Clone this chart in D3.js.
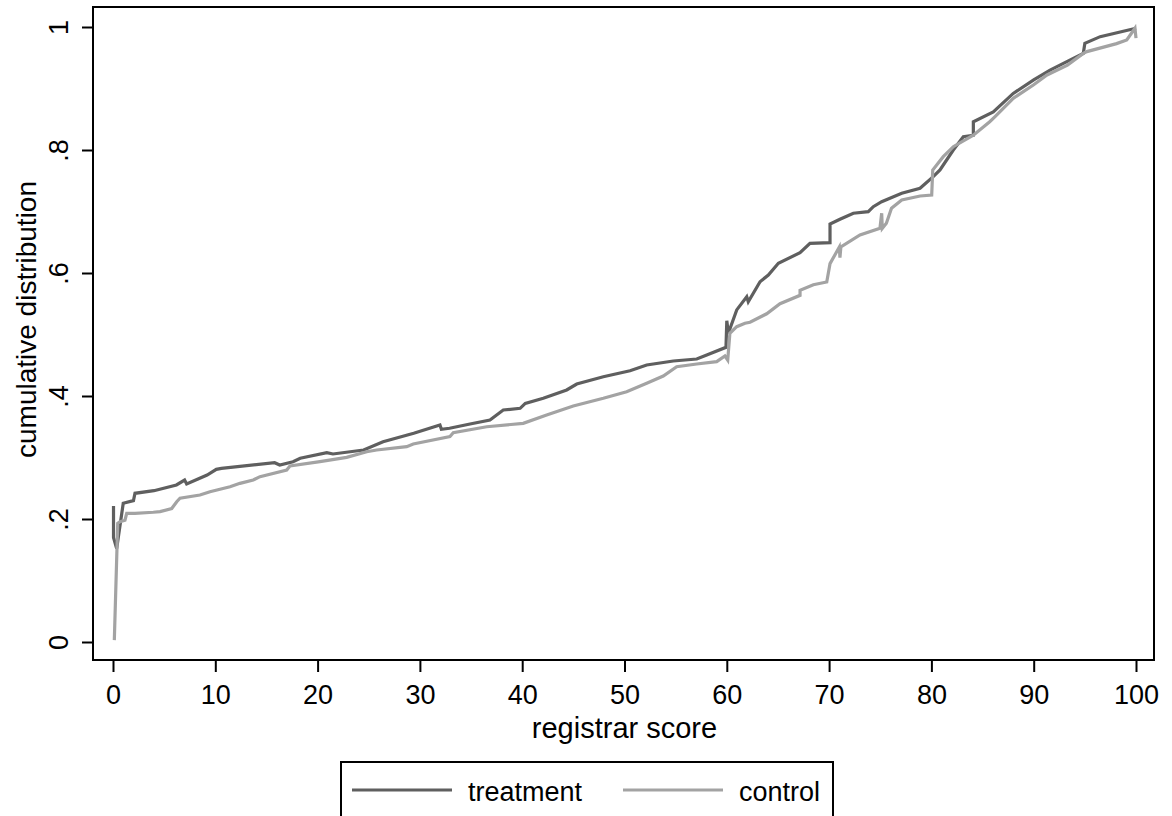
<!DOCTYPE html>
<html>
<head>
<meta charset="utf-8">
<script src="https://cdn.jsdelivr.net/npm/d3@7"></script>
<style>
  body { margin: 0; background: #fff; }
  text { font-family: "Liberation Sans", Arial, sans-serif; fill: #000; }
</style>
</head>
<body>
<div id="chart"></div>
<script>
// cumulative distribution of registrar score
const treatX = [0.05, 0.05, 0.36, 1.0, 2.0, 2.15, 4.0, 6.2, 7.0, 7.2, 9.2, 10.1, 10.6, 15.8, 16.3, 17.6, 18.3, 20.9, 21.5, 24.5, 26.4, 29.4, 31.96, 32.1, 32.9, 34.9, 36.85, 38.15, 39.8, 40.3, 42.06, 44.35, 45.33, 47.93, 50.54, 52.17, 54.77, 57.06, 58.04, 59.92, 60.0, 60.15, 60.97, 61.95, 62.1, 63.25, 64.06, 65.04, 67.16, 68.13, 70.09, 70.09, 71.06, 72.37, 73.83, 74.32, 75.14, 77.1, 78.89, 80.18, 80.84, 82.14, 83.12, 84.1, 84.1, 86.05, 88.0, 90.0, 91.6, 93.87, 94.85, 95.0, 96.5, 100.0];
const treatY = [0.221, 0.17, 0.152, 0.2255, 0.2298, 0.2418, 0.246, 0.2553, 0.2634, 0.257, 0.2715, 0.2808, 0.2824, 0.2915, 0.2878, 0.2932, 0.2987, 0.3078, 0.3057, 0.3122, 0.3257, 0.3393, 0.3528, 0.3459, 0.3475, 0.3545, 0.361, 0.3772, 0.38, 0.388, 0.3963, 0.4098, 0.4195, 0.4314, 0.4411, 0.4504, 0.4569, 0.4602, 0.4667, 0.4792, 0.5224, 0.502, 0.54, 0.5615, 0.5533, 0.5858, 0.5967, 0.6158, 0.633, 0.6483, 0.6493, 0.6797, 0.6873, 0.6971, 0.6997, 0.7078, 0.716, 0.7296, 0.7377, 0.7566, 0.7675, 0.8, 0.8216, 0.824, 0.846, 0.862, 0.892, 0.914, 0.93, 0.949, 0.9572, 0.9734, 0.9843, 0.998];

const ctrlX = [0.13, 0.46, 0.68, 1.17, 1.34, 2.15, 3.94, 4.6, 5.74, 6.23, 6.55, 8.5, 9.48, 11.44, 12.41, 13.71, 14.37, 16.98, 17.3, 20.23, 22.84, 24.8, 25.78, 28.71, 29.35, 32.94, 33.26, 36.53, 40.1, 42.39, 44.99, 47.93, 50.21, 52.17, 53.79, 55.1, 57.06, 59.01, 59.82, 60.09, 60.3, 60.97, 61.78, 62.27, 63.9, 65.2, 67.16, 67.16, 68.46, 69.77, 70.09, 71.0, 71.06, 71.15, 73.02, 74.97, 75.14, 75.2, 75.6, 76.1, 77.1, 78.9, 80.03, 80.13, 81.16, 82.14, 84.1, 85.7, 86.2, 88.0, 90.0, 91.3, 93.3, 94.85, 95.2, 98.1, 99.1, 99.9, 100.0];
const ctrlY = [0.003, 0.193, 0.1956, 0.198, 0.209, 0.209, 0.211, 0.212, 0.217, 0.228, 0.2337, 0.239, 0.2444, 0.2525, 0.258, 0.2634, 0.2688, 0.2797, 0.2862, 0.2932, 0.3003, 0.3094, 0.3122, 0.3176, 0.322, 0.334, 0.3403, 0.35, 0.3556, 0.3691, 0.3837, 0.3963, 0.407, 0.4206, 0.4325, 0.4476, 0.452, 0.4558, 0.465, 0.4585, 0.502, 0.5127, 0.5182, 0.52, 0.5337, 0.55, 0.5637, 0.5718, 0.5809, 0.5854, 0.6152, 0.6423, 0.625, 0.6423, 0.6618, 0.6726, 0.6971, 0.6726, 0.6808, 0.7052, 0.7187, 0.7252, 0.7268, 0.7675, 0.7892, 0.8054, 0.824, 0.846, 0.854, 0.884, 0.906, 0.922, 0.938, 0.957, 0.96, 0.973, 0.979, 0.998, 0.982];

const xTicks = [0, 10, 20, 30, 40, 50, 60, 70, 80, 90, 100];
const yTicks = [0, 0.2, 0.4, 0.6, 0.8, 1];
const yTickLabels = ["0", ".2", ".4", ".6", ".8", "1"];
const seriesNames = ["treatment", "control"];
const seriesColors = ["#5f5f5f", "#a3a3a3"];

const W = 1172, H = 816;
const box = {left: 93, top: 7, right: 1154, bottom: 660};
const fontSize = 27;

const svg = d3.select("#chart").append("svg")
    .attr("width", W)
    .attr("height", H);

var x = d3.scaleLinear().domain([0, 100]).range([113, 1136]);
var y = d3.scaleLinear().domain([0, 1]).range([642, 27]);

// plot region frame
svg.append("rect")
    .attr("x", box.left)
    .attr("y", box.top)
    .attr("width", box.right - box.left)
    .attr("height", box.bottom - box.top)
    .attr("fill", "none")
    .attr("stroke", "#000")
    .attr("stroke-width", 2);

// y axis, labels turned like stata does
var yAxis = svg.append("g")
    .attr("transform", `translate(${box.left},0)`)
    .call(d3.axisLeft(y).tickValues(yTicks).tickSize(11)
        .tickFormat((d, i) => yTickLabels[i]));
yAxis.select(".domain").remove();
yAxis.selectAll("line").attr("stroke", "#000").attr("stroke-width", 2);
yAxis.selectAll("text")
    .attr("transform", "rotate(-90)")
    .attr("text-anchor", "middle")
    .attr("x", 0)
    .attr("y", -25)
    .attr("dy", 0)
    .style("font-size", fontSize + "px");

// x axis
var xAxis = svg.append("g")
    .attr("transform", `translate(0,${box.bottom})`)
    .call(d3.axisBottom(x).tickValues(xTicks).tickSize(12).tickPadding(13));
xAxis.select(".domain").remove();
xAxis.selectAll("line").attr("stroke", "#000").attr("stroke-width", 2);
xAxis.selectAll("text").style("font-size", fontSize + "px");

// axis titles
svg.append("text")
    .attr("text-anchor", "middle")
    .attr("transform", `translate(36,${(box.top + box.bottom) / 2 - 14}) rotate(-90)`)
    .style("font-size", "28px")
    .text("cumulative distribution");

svg.append("text")
    .attr("text-anchor", "middle")
    .attr("x", (x(0) + x(100)) / 2)
    .attr("y", 738)
    .style("font-size", "29px")
    .text("registrar score");

// the two cdf lines
var line = d3.line()
    .x(d => x(d[0]))
    .y(d => y(d[1]));

var treatData = d3.zip(treatX, treatY);
var ctrlData = d3.zip(ctrlX, ctrlY);

[treatData, ctrlData].forEach(function(data, i) {
    svg.append("path")
        .datum(data)
        .attr("d", line)
        .attr("fill", "none")
        .attr("stroke", seriesColors[i])
        .attr("stroke-width", 3.2)
        .attr("stroke-linejoin", "miter");
});

// legend
var legend = svg.append("g");
legend.append("rect")
    .attr("x", 341).attr("y", 762)
    .attr("width", 492).attr("height", 80)
    .attr("fill", "#fff")
    .attr("stroke", "#000")
    .attr("stroke-width", 2);

var legX = [352, 623];
seriesNames.forEach(function(name, i) {
    legend.append("line")
        .attr("x1", legX[i]).attr("x2", legX[i] + 100)
        .attr("y1", 790).attr("y2", 790)
        .attr("stroke", seriesColors[i])
        .attr("stroke-width", 3);
    legend.append("text")
        .attr("x", legX[i] + 116)
        .attr("y", 801)
        .style("font-size", fontSize + "px")
        .text(name);
});
</script>
</body>
</html>
